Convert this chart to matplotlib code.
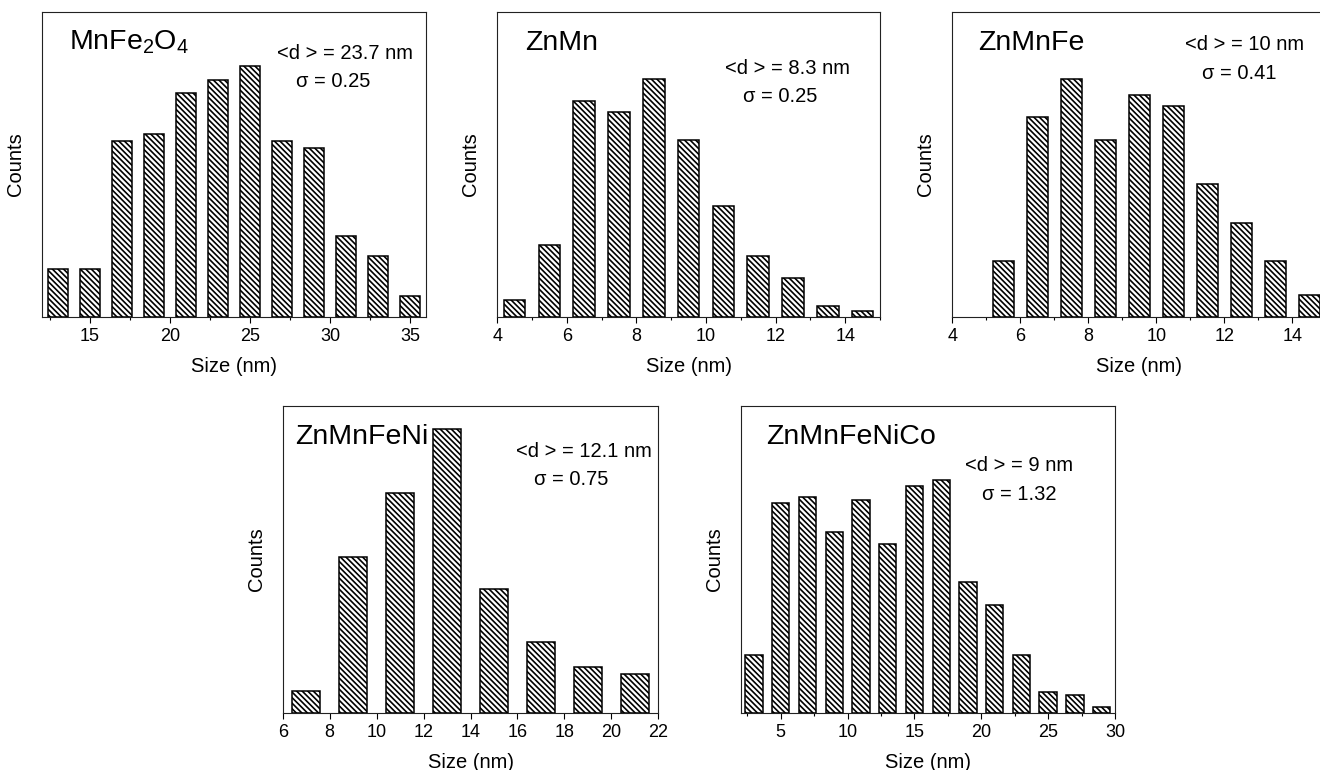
import matplotlib
matplotlib.use("Agg")
import matplotlib.pyplot as plt
from matplotlib.ticker import MultipleLocator

plt.rcParams['font.family'] = ['Liberation Sans', 'DejaVu Sans']
plt.rcParams['mathtext.default'] = 'regular'
plt.rcParams['hatch.linewidth'] = 1.2
plt.rcParams['hatch.color'] = 'black'

# 데이터
mnfe_size = [13, 15, 17, 19, 21, 23, 25, 27, 29, 31, 33, 35]
mnfe_counts = [7, 7, 26, 27, 33, 35, 37, 26, 25, 12, 9, 3]

znmn_size = [4.5, 5.5, 6.5, 7.5, 8.5, 9.5, 10.5, 11.5, 12.5, 13.5, 14.5]
znmn_counts = [3, 13, 39, 37, 43, 32, 20, 11, 7, 2, 1]

znmnfe_size = [5.5, 6.5, 7.5, 8.5, 9.5, 10.5, 11.5, 12.5, 13.5, 14.5]
znmnfe_counts = [10, 36, 43, 32, 40, 38, 24, 17, 10, 4]

znmnfeni_size = [7, 9, 11, 13, 15, 17, 19, 21]
znmnfeni_counts = [3, 22, 31, 40, 17.5, 10, 6.5, 5.5]

znmnfenico_size = [3, 5, 7, 9, 11, 13, 15, 17, 19, 21, 23, 25, 27, 29]
znmnfenico_counts = [10, 36, 37, 31, 36.5, 29, 39, 40, 22.5, 18.5, 10, 3.5, 3, 1]

names = ['MnFe$_2$O$_4$', 'ZnMn', 'ZnMnFe', 'ZnMnFeNi', 'ZnMnFeNiCo']
mean_d = ['<d > = 23.7 nm', '<d > = 8.3 nm', '<d > = 10 nm', '<d > = 12.1 nm', '<d > = 9 nm']
sigma = ['σ = 0.25', 'σ = 0.25', 'σ = 0.41', 'σ = 0.75', 'σ = 1.32']

sizes = [mnfe_size, znmn_size, znmnfe_size, znmnfeni_size, znmnfenico_size]
counts = [mnfe_counts, znmn_counts, znmnfe_counts, znmnfeni_counts, znmnfenico_counts]

# 레이아웃 (픽셀 단위: left, right, top, bottom)
W, H = 1320, 770
boxes = [(42, 426, 12.3, 316.7), (497.3, 880, 12.3, 316.7), (952.3, 1326.3, 12.3, 316.7),
         (282.7, 658.3, 406, 712.7), (740.7, 1115, 406, 712.7)]
xlims = [(12, 36), (4, 15), (4, 15), (6, 22), (2, 30)]
ylims = [45, 55, 55, 43.3, 52.7]
widths = [1.25, 0.62, 0.63, 1.22, 1.3]
major = [5, 2, 2, 2, 5]
minor = [2.5, 1, 1, None, 2.5]
name_pos = [(0.07, 0.90), (0.072, 0.90), (0.07, 0.898), (0.033, 0.90), (0.069, 0.90)]
d_pos = [(0.79, 0.865), (0.759, 0.816), (0.782, 0.895), (0.802, 0.851), (0.745, 0.805)]
s_pos = [(0.757, 0.772), (0.739, 0.723), (0.767, 0.80), (0.769, 0.759), (0.745, 0.712)]

fig = plt.figure(figsize=(W / 100, H / 100), dpi=100)

for i in range(5):
    l, r, t, b = boxes[i]
    ax = fig.add_axes([l / W, 1 - b / H, (r - l) / W, (b - t) / H])
    ax.bar(sizes[i], counts[i], width=widths[i], color='white', edgecolor='black',
           linewidth=1.1, hatch='\\\\\\\\\\\\')
    ax.set_xlim(xlims[i])
    ax.set_ylim(0, ylims[i])
    ax.set_yticks([])
    ax.xaxis.set_major_locator(MultipleLocator(major[i]))
    if minor[i]:
        ax.xaxis.set_minor_locator(MultipleLocator(minor[i]))
    ax.tick_params(axis='x', which='major', direction='out', length=4.5, width=0.8,
                   labelsize=13, pad=3.5)
    ax.tick_params(axis='x', which='minor', direction='out', length=2.5, width=0.8)
    for sp in ax.spines.values():
        sp.set_linewidth(0.8)
        sp.set_color('#222222')
    ax.set_xlabel('Size (nm)', fontsize=14.5, labelpad=9)
    ax.set_ylabel('Counts', fontsize=14.5)
    ax.yaxis.set_label_coords(-0.045, 0.5)

    ax.text(name_pos[i][0], name_pos[i][1], names[i], transform=ax.transAxes,
            fontsize=20.5, ha='left', va='center')
    ax.text(d_pos[i][0], d_pos[i][1], mean_d[i], transform=ax.transAxes,
            fontsize=14.5, ha='center', va='center')
    ax.text(s_pos[i][0], s_pos[i][1], sigma[i], transform=ax.transAxes,
            fontsize=14.5, ha='center', va='center')

plt.savefig('out.png', dpi=100)
